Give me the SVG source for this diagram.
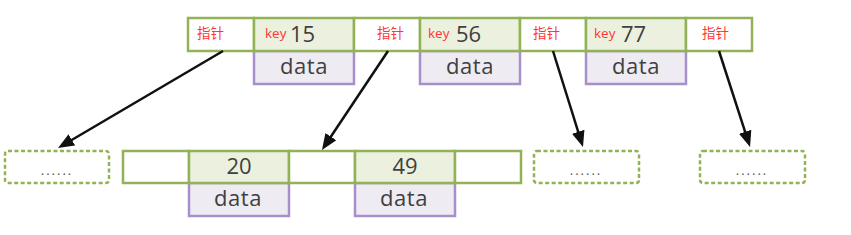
<svg xmlns="http://www.w3.org/2000/svg" width="851" height="235" viewBox="0 0 851 235">
<style>
.ptr{fill:#ffffff;stroke:#92b257;stroke-width:2.5}
.key{fill:#ebf1de;stroke:#92b257;stroke-width:2.5}
.dat{fill:#eeebf3;stroke:#a68fca;stroke-width:2.5}
.dash{fill:#ffffff;stroke:#92b257;stroke-width:2.5;stroke-dasharray:4 2.5}
.red{font-family:"Open Sans","Noto Sans CJK SC",sans-serif;fill:#ff3535;font-size:13.5px}
.num{font-family:"Open Sans",sans-serif;fill:#404040;font-size:22px}
.dt{font-family:"Open Sans",sans-serif;fill:#404040;font-size:22px;text-anchor:middle;letter-spacing:0.5px}
.dots{font-family:"Open Sans",sans-serif;fill:#555555;font-size:13px;text-anchor:middle;letter-spacing:2px}
.arr{stroke:#111111;stroke-width:2.5;fill:none;marker-end:url(#ah)}
</style>
<defs>
<marker id="ah" markerUnits="userSpaceOnUse" markerWidth="16" markerHeight="13" viewBox="0 0 16 13" refX="10" refY="6.5" orient="auto">
<path d="M0,0 L16,6.5 L0,13 Z" fill="#111111"/>
</marker>
</defs>
<g id="root">
<rect class="dat" x="254" y="51" width="100" height="33"/>
<rect class="dat" x="420" y="51" width="100" height="33"/>
<rect class="dat" x="586" y="51" width="100" height="33"/>
<rect class="ptr" x="188" y="18" width="66" height="33"/>
<rect class="key" x="254" y="18" width="100" height="33"/>
<rect class="ptr" x="354" y="18" width="66" height="33"/>
<rect class="key" x="420" y="18" width="100" height="33"/>
<rect class="ptr" x="520" y="18" width="66" height="33"/>
<rect class="key" x="586" y="18" width="100" height="33"/>
<rect class="ptr" x="686" y="18" width="66" height="33"/>
<text class="red" x="197" y="38">指针</text>
<text class="red" x="377" y="38">指针</text>
<text class="red" x="533" y="38">指针</text>
<text class="red" x="702" y="38">指针</text>
<text class="red" x="265" y="38">key</text>
<text class="num" x="290" y="42">15</text>
<text class="red" x="428" y="38">key</text>
<text class="num" x="456" y="42">56</text>
<text class="red" x="594" y="38">key</text>
<text class="num" x="621" y="42">77</text>
<text class="dt" x="304" y="74">data</text>
<text class="dt" x="470" y="74">data</text>
<text class="dt" x="636" y="74">data</text>
</g>
<g id="child">
<rect class="dat" x="189" y="183" width="100" height="33"/>
<rect class="dat" x="355" y="183" width="100" height="33"/>
<rect class="ptr" x="123" y="151" width="66" height="32"/>
<rect class="key" x="189" y="151" width="100" height="32"/>
<rect class="ptr" x="289" y="151" width="66" height="32"/>
<rect class="key" x="355" y="151" width="100" height="32"/>
<rect class="ptr" x="455" y="151" width="66" height="32"/>
<text class="num" x="239" y="174" text-anchor="middle">20</text>
<text class="num" x="405" y="174" text-anchor="middle">49</text>
<text class="dt" x="238" y="206">data</text>
<text class="dt" x="404" y="206">data</text>
</g>
<g id="leaf1">
<rect class="dash" x="5" y="151" width="104" height="32" rx="3"/>
<text class="dots" x="57" y="175">......</text>
</g>
<g id="leaf2">
<rect class="dash" x="534" y="151" width="105" height="32" rx="3"/>
<text class="dots" x="586" y="175">......</text>
</g>
<g id="leaf3">
<rect class="dash" x="700" y="151" width="105" height="32" rx="3"/>
<text class="dots" x="752" y="175">......</text>
</g>
<g id="connectors">
<path class="arr" d="M223,51 L63.2,145"/>
<path class="arr" d="M388,51 L325.3,145"/>
<path class="arr" d="M553,51 L581.2,141.3"/>
<path class="arr" d="M719,51 L748.2,141.3"/>
</g>
</svg>
